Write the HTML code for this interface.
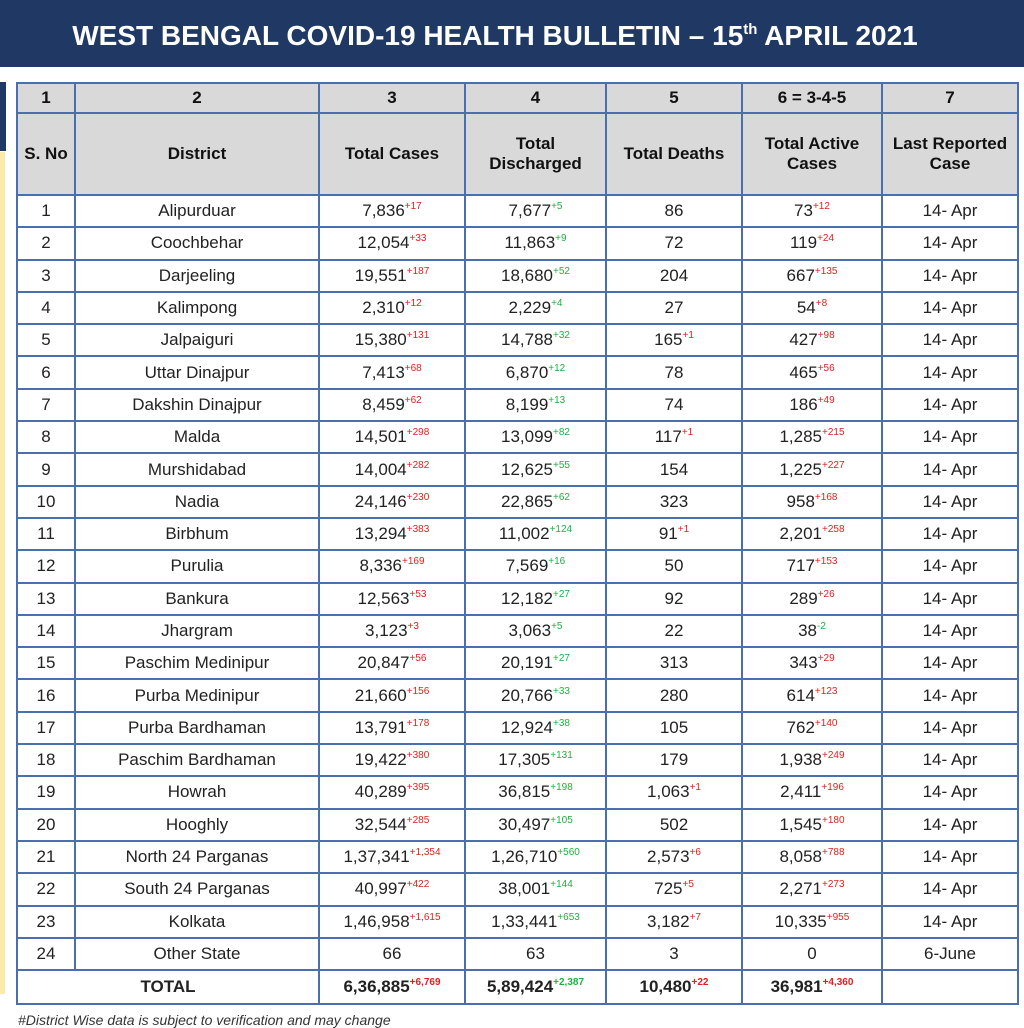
<!DOCTYPE html>
<html><head><meta charset="utf-8"><style>
html,body{margin:0;padding:0;background:#fff;}
body{width:1024px;height:1019px;position:relative;overflow:hidden;font-family:"Liberation Sans",sans-serif;}
.hdr{position:absolute;left:0;top:0;width:990px;height:67px;background:#1f3864;color:#fff;font-weight:bold;font-size:28px;text-align:center;line-height:72px;padding-right:34px;}
.hdr sup{font-size:15px;line-height:0;vertical-align:11px;}
.lb{position:absolute;left:0;top:82px;width:6px;height:69px;background:#1f3864;}
.ly{position:absolute;left:0;top:152px;width:5px;height:842px;background:#fde9a9;}
table{position:absolute;left:16px;top:82px;border-collapse:collapse;table-layout:fixed;}
td{border:2px solid #4a6fb0;text-align:center;font-size:17px;color:#222;padding:0;height:30.3px;line-height:20px;white-space:nowrap;}
tr.h td{background:#d9d9d9;font-weight:bold;color:#111;}
tr.h1 td{height:28px;}
tr.h2 td{height:80px;}
tr.t td{font-weight:bold;height:32px;}
sup{font-size:10px;line-height:0;vertical-align:7px;}
.r{color:#e02020;}.g{color:#20b040;}
.foot{position:absolute;left:18px;top:1012px;font-size:14px;font-style:italic;color:#333;}
</style></head><body>
<div class="hdr">WEST BENGAL COVID-19 HEALTH BULLETIN – 15<sup>th</sup> APRIL 2021</div>
<div class="lb"></div><div class="ly"></div>
<table>
<colgroup><col style="width:58px"><col style="width:244px"><col style="width:146px"><col style="width:141px"><col style="width:136px"><col style="width:140px"><col style="width:136px"></colgroup>
<tr class="h h1"><td>1</td><td>2</td><td>3</td><td>4</td><td>5</td><td>6 = 3-4-5</td><td>7</td></tr>
<tr class="h h2"><td>S. No</td><td>District</td><td>Total Cases</td><td>Total<br>Discharged</td><td>Total Deaths</td><td>Total Active<br>Cases</td><td>Last Reported<br>Case</td></tr>
<tr><td>1</td><td>Alipurduar</td><td>7,836<sup class="r">+17</sup></td><td>7,677<sup class="g">+5</sup></td><td>86</td><td>73<sup class="r">+12</sup></td><td>14- Apr</td></tr>
<tr><td>2</td><td>Coochbehar</td><td>12,054<sup class="r">+33</sup></td><td>11,863<sup class="g">+9</sup></td><td>72</td><td>119<sup class="r">+24</sup></td><td>14- Apr</td></tr>
<tr><td>3</td><td>Darjeeling</td><td>19,551<sup class="r">+187</sup></td><td>18,680<sup class="g">+52</sup></td><td>204</td><td>667<sup class="r">+135</sup></td><td>14- Apr</td></tr>
<tr><td>4</td><td>Kalimpong</td><td>2,310<sup class="r">+12</sup></td><td>2,229<sup class="g">+4</sup></td><td>27</td><td>54<sup class="r">+8</sup></td><td>14- Apr</td></tr>
<tr><td>5</td><td>Jalpaiguri</td><td>15,380<sup class="r">+131</sup></td><td>14,788<sup class="g">+32</sup></td><td>165<sup class="r">+1</sup></td><td>427<sup class="r">+98</sup></td><td>14- Apr</td></tr>
<tr><td>6</td><td>Uttar Dinajpur</td><td>7,413<sup class="r">+68</sup></td><td>6,870<sup class="g">+12</sup></td><td>78</td><td>465<sup class="r">+56</sup></td><td>14- Apr</td></tr>
<tr><td>7</td><td>Dakshin Dinajpur</td><td>8,459<sup class="r">+62</sup></td><td>8,199<sup class="g">+13</sup></td><td>74</td><td>186<sup class="r">+49</sup></td><td>14- Apr</td></tr>
<tr><td>8</td><td>Malda</td><td>14,501<sup class="r">+298</sup></td><td>13,099<sup class="g">+82</sup></td><td>117<sup class="r">+1</sup></td><td>1,285<sup class="r">+215</sup></td><td>14- Apr</td></tr>
<tr><td>9</td><td>Murshidabad</td><td>14,004<sup class="r">+282</sup></td><td>12,625<sup class="g">+55</sup></td><td>154</td><td>1,225<sup class="r">+227</sup></td><td>14- Apr</td></tr>
<tr><td>10</td><td>Nadia</td><td>24,146<sup class="r">+230</sup></td><td>22,865<sup class="g">+62</sup></td><td>323</td><td>958<sup class="r">+168</sup></td><td>14- Apr</td></tr>
<tr><td>11</td><td>Birbhum</td><td>13,294<sup class="r">+383</sup></td><td>11,002<sup class="g">+124</sup></td><td>91<sup class="r">+1</sup></td><td>2,201<sup class="r">+258</sup></td><td>14- Apr</td></tr>
<tr><td>12</td><td>Purulia</td><td>8,336<sup class="r">+169</sup></td><td>7,569<sup class="g">+16</sup></td><td>50</td><td>717<sup class="r">+153</sup></td><td>14- Apr</td></tr>
<tr><td>13</td><td>Bankura</td><td>12,563<sup class="r">+53</sup></td><td>12,182<sup class="g">+27</sup></td><td>92</td><td>289<sup class="r">+26</sup></td><td>14- Apr</td></tr>
<tr><td>14</td><td>Jhargram</td><td>3,123<sup class="r">+3</sup></td><td>3,063<sup class="g">+5</sup></td><td>22</td><td>38<sup class="g">-2</sup></td><td>14- Apr</td></tr>
<tr><td>15</td><td>Paschim Medinipur</td><td>20,847<sup class="r">+56</sup></td><td>20,191<sup class="g">+27</sup></td><td>313</td><td>343<sup class="r">+29</sup></td><td>14- Apr</td></tr>
<tr><td>16</td><td>Purba Medinipur</td><td>21,660<sup class="r">+156</sup></td><td>20,766<sup class="g">+33</sup></td><td>280</td><td>614<sup class="r">+123</sup></td><td>14- Apr</td></tr>
<tr><td>17</td><td>Purba Bardhaman</td><td>13,791<sup class="r">+178</sup></td><td>12,924<sup class="g">+38</sup></td><td>105</td><td>762<sup class="r">+140</sup></td><td>14- Apr</td></tr>
<tr><td>18</td><td>Paschim Bardhaman</td><td>19,422<sup class="r">+380</sup></td><td>17,305<sup class="g">+131</sup></td><td>179</td><td>1,938<sup class="r">+249</sup></td><td>14- Apr</td></tr>
<tr><td>19</td><td>Howrah</td><td>40,289<sup class="r">+395</sup></td><td>36,815<sup class="g">+198</sup></td><td>1,063<sup class="r">+1</sup></td><td>2,411<sup class="r">+196</sup></td><td>14- Apr</td></tr>
<tr><td>20</td><td>Hooghly</td><td>32,544<sup class="r">+285</sup></td><td>30,497<sup class="g">+105</sup></td><td>502</td><td>1,545<sup class="r">+180</sup></td><td>14- Apr</td></tr>
<tr><td>21</td><td>North 24 Parganas</td><td>1,37,341<sup class="r">+1,354</sup></td><td>1,26,710<sup class="g">+560</sup></td><td>2,573<sup class="r">+6</sup></td><td>8,058<sup class="r">+788</sup></td><td>14- Apr</td></tr>
<tr><td>22</td><td>South 24 Parganas</td><td>40,997<sup class="r">+422</sup></td><td>38,001<sup class="g">+144</sup></td><td>725<sup class="r">+5</sup></td><td>2,271<sup class="r">+273</sup></td><td>14- Apr</td></tr>
<tr><td>23</td><td>Kolkata</td><td>1,46,958<sup class="r">+1,615</sup></td><td>1,33,441<sup class="g">+653</sup></td><td>3,182<sup class="r">+7</sup></td><td>10,335<sup class="r">+955</sup></td><td>14- Apr</td></tr>
<tr><td>24</td><td>Other State</td><td>66</td><td>63</td><td>3</td><td>0</td><td>6-June</td></tr>
<tr class="t"><td colspan="2">TOTAL</td><td>6,36,885<sup class="r">+6,769</sup></td><td>5,89,424<sup class="g">+2,387</sup></td><td>10,480<sup class="r">+22</sup></td><td>36,981<sup class="r">+4,360</sup></td><td></td></tr>
</table>
<div class="foot">#District Wise data is subject to verification and may change</div>
</body></html>
